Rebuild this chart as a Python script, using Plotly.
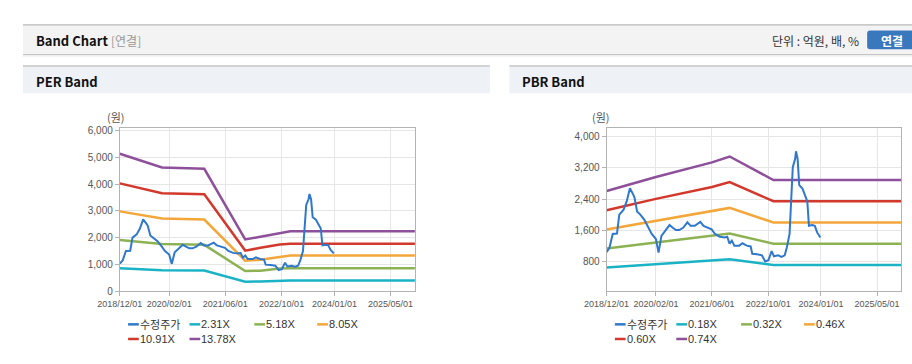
import plotly.graph_objects as go

W, H = 912, 364

# ---------------- data ----------------
price_dates = [
    "2018-12-01", "2018-12-26", "2019-01-23", "2019-03-01", "2019-03-21", "2019-04-26",
    "2019-05-24", "2019-06-21", "2019-07-19", "2019-07-31", "2019-08-22", "2019-09-19",
    "2019-10-23", "2019-11-28", "2019-12-27", "2020-02-01", "2020-02-24", "2020-03-20",
    "2020-04-17", "2020-05-29", "2020-06-26", "2020-07-24", "2020-08-21", "2020-09-24",
    "2020-10-31", "2020-11-28", "2021-01-03", "2021-02-20", "2021-03-20", "2021-05-01",
    "2021-05-29", "2021-06-27", "2021-08-08", "2021-09-19", "2021-10-11", "2021-10-31",
    "2021-11-20", "2021-12-12", "2022-01-23", "2022-02-20", "2022-03-29", "2022-05-02",
    "2022-05-16", "2022-06-27", "2022-08-08", "2022-09-05", "2022-10-03", "2022-10-31",
    "2022-11-20", "2022-12-26", "2023-01-24", "2023-02-21", "2023-03-12", "2023-04-04",
    "2023-04-18", "2023-05-02", "2023-05-22", "2023-05-30", "2023-06-13", "2023-06-27",
    "2023-07-25", "2023-08-14", "2023-09-05", "2023-09-19", "2023-10-18", "2023-11-09",
    "2023-11-29", "2023-12-27",
]
price_vals = [
    1030, 1150, 1500, 1510, 2000, 2120,
    2340, 2680, 2520, 2440, 2080, 2000,
    1870, 1670, 1500, 1370, 1020, 1450,
    1560, 1730, 1660, 1600, 1600, 1660,
    1800, 1710, 1710, 1810, 1710, 1660,
    1620, 1500, 1430, 1410, 1430, 1250,
    1330, 1200, 1200, 1260, 1200, 1180,
    990, 975, 950, 790, 825, 1060,
    925, 950, 910, 950, 1160, 1500,
    2590, 3220, 3430, 3630, 3430, 2760,
    2670, 2500, 2340, 1710, 1730, 1710,
    1540, 1410,
]

per_band_dates = ["2018-12-01", "2019-12-01", "2020-12-01", "2021-11-20",
                  "2022-04-01", "2022-09-15", "2022-12-15", "2025-12-01"]
per_2_31 = [860, 785, 775, 355, 360, 395, 395, 395]
per_5_18 = [1915, 1760, 1730, 755, 765, 845, 860, 860]
per_8_05 = [2980, 2710, 2675, 1140, 1170, 1290, 1335, 1335]
per_10_91 = [4025, 3660, 3620, 1515, 1620, 1745, 1775, 1775]
per_13_78 = [5130, 4620, 4570, 1930, 2030, 2170, 2240, 2240]
per_names = ["2.31X", "5.18X", "8.05X", "10.91X", "13.78X"]

pbr_band_dates = ["2018-12-01", "2020-02-01", "2021-06-01", "2021-11-01",
                  "2022-11-15", "2025-12-01"]
pbr_0_18 = [634, 722, 813, 850, 703, 703]
pbr_0_32 = [1125, 1281, 1447, 1512, 1250, 1250]
pbr_0_46 = [1615, 1840, 2080, 2172, 1796, 1796]
pbr_0_60 = [2113, 2405, 2712, 2838, 2343, 2343]
pbr_0_74 = [2606, 2967, 3345, 3496, 2890, 2890]
pbr_names = ["0.18X", "0.32X", "0.46X", "0.60X", "0.74X"]

price_name = "수정주가"
x_tick_dates = ["2018-12-01", "2020-02-01", "2021-06-01", "2022-10-01", "2024-01-01", "2025-05-01"]
x_tick_text = ["2018/12/01", "2020/02/01", "2021/06/01", "2022/10/01", "2024/01/01", "2025/05/01"]
per_y_ticks = [0, 1000, 2000, 3000, 4000, 5000, 6000]
pbr_y_ticks = [800, 1600, 2400, 3200, 4000]

# ---------------- styles ----------------
BLUE = "#2f78cc"
BAND_COLORS = ["#1ab3c6", "#8db254", "#f3a73a", "#d2382b", "#8e4f9b"]
GRID = "#e6e6e6"
AXIS = "#b3b3b3"
YFONT = dict(family="Liberation Sans, Arial, sans-serif", size=10, color="#555")
XFONT = dict(family="Liberation Sans, Arial, sans-serif", size=9, color="#555")
KFONT = "Noto Sans CJK KR, sans-serif"
LFONT = "Liberation Sans, Arial, sans-serif"


def px(x):
    return x / W


def py(y):
    return 1 - y / H


fig = go.Figure()

per_bands = [per_2_31, per_5_18, per_8_05, per_10_91, per_13_78]
pbr_bands = [pbr_0_18, pbr_0_32, pbr_0_46, pbr_0_60, pbr_0_74]

for vals, name, col in zip(per_bands, per_names, BAND_COLORS):
    fig.add_trace(go.Scatter(x=per_band_dates, y=vals, name=name, mode="lines",
                             line=dict(color=col, width=2.5), xaxis="x", yaxis="y",
                             showlegend=False))
fig.add_trace(go.Scatter(x=price_dates, y=price_vals, name=price_name, mode="lines",
                         line=dict(color=BLUE, width=2), xaxis="x", yaxis="y",
                         showlegend=False))

for vals, name, col in zip(pbr_bands, pbr_names, BAND_COLORS):
    fig.add_trace(go.Scatter(x=pbr_band_dates, y=vals, name=name, mode="lines",
                             line=dict(color=col, width=2.5), xaxis="x2", yaxis="y2",
                             showlegend=False))
fig.add_trace(go.Scatter(x=price_dates, y=price_vals, name=price_name, mode="lines",
                         line=dict(color=BLUE, width=2), xaxis="x2", yaxis="y2",
                         showlegend=False))

x_range = ["2018-12-01", "2025-11-27"]
common_x = dict(type="date", range=x_range, tickvals=x_tick_dates, ticktext=x_tick_text,
                tickangle=0, showgrid=True, gridcolor=GRID, showline=True, linecolor=AXIS,
                mirror=True, ticks="outside", ticklen=4, tickcolor=AXIS, tickfont=XFONT,
                zeroline=False, fixedrange=True)
common_y = dict(showgrid=True, gridcolor=GRID, showline=True, linecolor=AXIS, mirror=True,
                ticks="outside", ticklen=4, tickcolor=AXIS, tickfont=YFONT,
                tickformat=",d", zeroline=False, fixedrange=True)

plot_top, plot_bot = 128.3, 295.5
per_l, per_r = 99.3, 402.0
pbr_l, pbr_r = 598.7, 901.0

fig.update_layout(
    width=W, height=H, autosize=False,
    margin=dict(l=0, r=0, t=0, b=0, pad=0),
    paper_bgcolor="white", plot_bgcolor="white",
    xaxis=dict(common_x, domain=[px(per_l), px(per_r)], anchor="y"),
    yaxis=dict(common_y, domain=[py(plot_bot), py(plot_top)], anchor="x",
               range=[0, 6087], tickvals=per_y_ticks),
    xaxis2=dict(common_x, domain=[px(pbr_l), px(pbr_r)], anchor="y2"),
    yaxis2=dict(common_y, domain=[py(plot_bot), py(plot_top)], anchor="x2",
                range=[26, 4227], tickvals=pbr_y_ticks),
    showlegend=False,
)

shapes = []
annotations = []

# page header bar
shapes.append(dict(type="rect", xref="paper", yref="paper", x0=0, x1=1, y0=py(52.5), y1=py(22.5),
                   fillcolor="#f3f3f3", line=dict(width=0), layer="below"))
shapes.append(dict(type="line", xref="paper", yref="paper", x0=0, x1=1, y0=py(22.5), y1=py(22.5),
                   line=dict(color="#b8b8b8", width=1.2)))
shapes.append(dict(type="line", xref="paper", yref="paper", x0=0, x1=1, y0=py(52.8), y1=py(52.8),
                   line=dict(color="#c4c4c4", width=1.2)))
shapes.append(dict(type="line", xref="paper", yref="paper", x0=0, x1=1, y0=py(54.2), y1=py(54.2),
                   line=dict(color="#e8e8e8", width=1.2)))

# blue button with rounded left corners (kept inside the page)
bx0, bx1, by0, by1, r = 866, 912, 28.3, 47.3, 3
path = (f"M{px(bx0 + r)},{py(by0)} L{px(bx1)},{py(by0)} L{px(bx1)},{py(by1)} "
        f"L{px(bx0 + r)},{py(by1)} Q{px(bx0)},{py(by1)} {px(bx0)},{py(by1 - r)} "
        f"L{px(bx0)},{py(by0 + r)} Q{px(bx0)},{py(by0)} {px(bx0 + r)},{py(by0)} Z")
shapes.append(dict(type="path", xref="paper", yref="paper", path=path,
                   fillcolor="#3a78bd", line=dict(width=0)))

# panel headers
for x0, x1 in [(0, 479), (499, 912)]:
    shapes.append(dict(type="rect", xref="paper", yref="paper", x0=px(x0), x1=px(x1),
                       y0=py(92.5), y1=py(65), fillcolor="#eef1f6", line=dict(width=0),
                       layer="below"))
    shapes.append(dict(type="line", xref="paper", yref="paper", x0=px(x0), x1=px(x1),
                       y0=py(64.5), y1=py(64.5), line=dict(color="#d2d2d2", width=2)))

# header texts
annotations += [
    dict(text="<b>Band Chart</b>", x=px(11), y=py(38.5), xanchor="left", yanchor="middle",
         font=dict(family=KFONT, size=13, color="#111")),
    dict(text="[연결]", x=px(88), y=py(38.5), xanchor="left", yanchor="middle",
         font=dict(family=KFONT, size=12, color="#999")),
    dict(text="단위 : 억원, 배, %", x=px(860), y=py(38.5), xanchor="right", yanchor="middle",
         font=dict(family=KFONT, size=12, color="#333")),
    dict(text="<b>연결</b>", x=px(891.5), y=py(38), xanchor="center", yanchor="middle",
         font=dict(family=KFONT, size=12, color="white")),
    dict(text="<b>PER Band</b>", x=px(11), y=py(80), xanchor="left", yanchor="middle",
         font=dict(family=KFONT, size=13, color="#111")),
    dict(text="<b>PBR Band</b>", x=px(510), y=py(80), xanchor="left", yanchor="middle",
         font=dict(family=KFONT, size=13, color="#111")),
    dict(text="(원)", x=px(95), y=py(117), xanchor="center", yanchor="middle",
         font=dict(family=KFONT, size=11, color="#555")),
    dict(text="(원)", x=px(593), y=py(117), xanchor="center", yanchor="middle",
         font=dict(family=KFONT, size=11, color="#555")),
]

# manual legends (two rows, four columns under each chart)
col_offsets = [8.5, 71.5, 138, 202.5]
row_y = [329.5, 344.5]
for left, names in [(per_l, per_names), (pbr_l, pbr_names)]:
    items = [(price_name, BLUE)] + list(zip(names, BAND_COLORS))
    for i, (name, col) in enumerate(items):
        x0 = left + col_offsets[i % 4]
        y = row_y[i // 4]
        shapes.append(dict(type="line", xref="paper", yref="paper", x0=px(x0), x1=px(x0 + 11),
                           y0=py(y), y1=py(y), line=dict(color=col, width=2.5)))
        annotations.append(dict(text=name, x=px(x0 + 12), y=py(y), xanchor="left",
                                yanchor="middle", borderpad=0, borderwidth=0,
                                font=dict(family=KFONT if i == 0 else LFONT,
                                          size=11, color="#333")))

for a in annotations:
    a.update(xref="paper", yref="paper", showarrow=False)

fig.update_layout(shapes=shapes, annotations=annotations)

fig.write_html(
    "out.html",
    config={"displayModeBar": False},
    post_script="document.body.style.margin='0';document.body.style.padding='0';"
                "document.body.style.overflow='hidden';",
)
